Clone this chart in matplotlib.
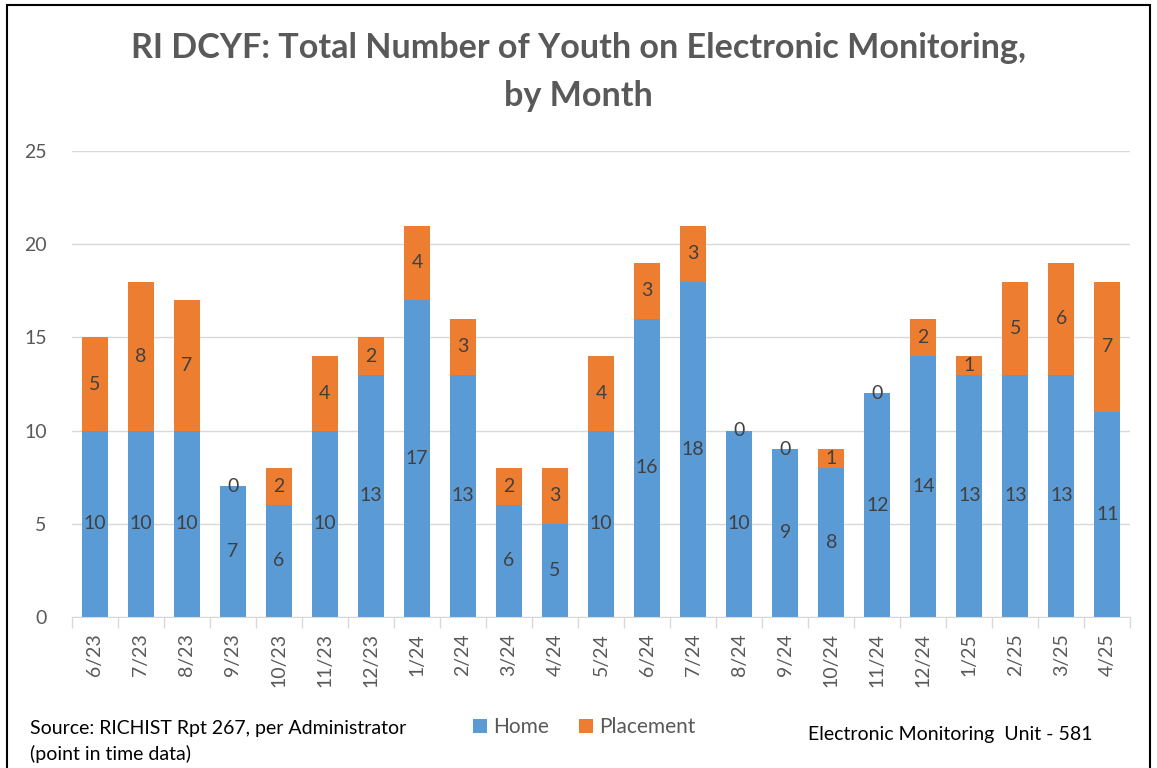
import numpy as np
import matplotlib
matplotlib.use("Agg")
import matplotlib.pyplot as plt
from matplotlib.patches import Rectangle

plt.rcParams['font.family'] = ['Lato', 'DejaVu Sans']

MONTHS = ['6/23', '7/23', '8/23', '9/23', '10/23', '11/23', '12/23', '1/24', '2/24',
          '3/24', '4/24', '5/24', '6/24', '7/24', '8/24', '9/24', '10/24', '11/24',
          '12/24', '1/25', '2/25', '3/25', '4/25']
HOME = [10, 10, 10, 7, 6, 10, 13, 17, 13, 6, 5, 10, 16, 18, 10, 9, 8, 12, 14, 13, 13, 13, 11]
PLACEMENT = [5, 8, 7, 0, 2, 4, 2, 4, 3, 2, 3, 4, 3, 3, 0, 0, 1, 0, 2, 1, 5, 6, 7]

BLUE = '#5B9BD5'
ORANGE = '#ED7D31'
GRAY = '#595959'
LABEL = '#404040'

fig = plt.figure(figsize=(11.57, 7.68), dpi=100)
ax = fig.add_axes([0.062, 0.197, 0.915, 0.606])

x = np.arange(len(MONTHS))
home = np.array(HOME)
place = np.array(PLACEMENT)
w = 0.57
ax.bar(x, home, width=w, color=BLUE, zorder=2, label='Home')
ax.bar(x, place, width=w, bottom=home, color=ORANGE, zorder=2, label='Placement')

for i in range(len(x)):
    ax.text(x[i], home[i] / 2, str(home[i]), ha='center', va='center',
            fontsize=14, color=LABEL, zorder=3)
    ax.text(x[i], home[i] + place[i] / 2, str(place[i]), ha='center', va='center',
            fontsize=14, color=LABEL, zorder=3)

ax.set_xlim(-0.5, len(x) - 0.5)
ax.set_ylim(0, 25)
ax.set_yticks([0, 5, 10, 15, 20, 25])
ax.yaxis.grid(True, color='#D9D9D9', linewidth=1, zorder=0)
ax.tick_params(axis='y', length=0, labelsize=14, labelcolor=GRAY, pad=18)
ax.set_xticks(x)
ax.set_xticklabels(MONTHS, rotation=90, fontsize=14, color=GRAY)
ax.set_xticks(np.arange(-0.5, len(x)), minor=True)
ax.tick_params(axis='x', which='major', length=0, pad=12)
ax.tick_params(axis='x', which='minor', length=8, color='#D9D9D9', width=1)
for s in ['top', 'right', 'left']:
    ax.spines[s].set_visible(False)
ax.spines['bottom'].set_color('#D9D9D9')

fig.text(0.5, 0.906, 'RI DCYF: Total Number of Youth on Electronic Monitoring,\nby Month',
         ha='center', va='center', fontsize=24.6, fontweight='bold', color=GRAY,
         linespacing=1.6)

leg = fig.legend(loc='center', bbox_to_anchor=(0.505, 0.053), ncol=2, frameon=False,
                 fontsize=15, handlelength=0.7, handleheight=0.7, columnspacing=1.4,
                 handletextpad=0.3, labelcolor=GRAY)

fig.text(0.026, 0.052, 'Source: RICHIST Rpt 267, per Administrator', fontsize=14,
         color='black', va='center')
fig.text(0.026, 0.018, '(point in time data)', fontsize=14, color='black', va='center')
fig.text(0.698, 0.044, 'Electronic Monitoring  Unit - 581', fontsize=14, color='black',
         va='center')

fig.patches.append(Rectangle((0.006, -0.01), 0.988, 1.003, transform=fig.transFigure,
                             fill=False, edgecolor='black', linewidth=1.5))

fig.savefig('out.png', dpi=100)
